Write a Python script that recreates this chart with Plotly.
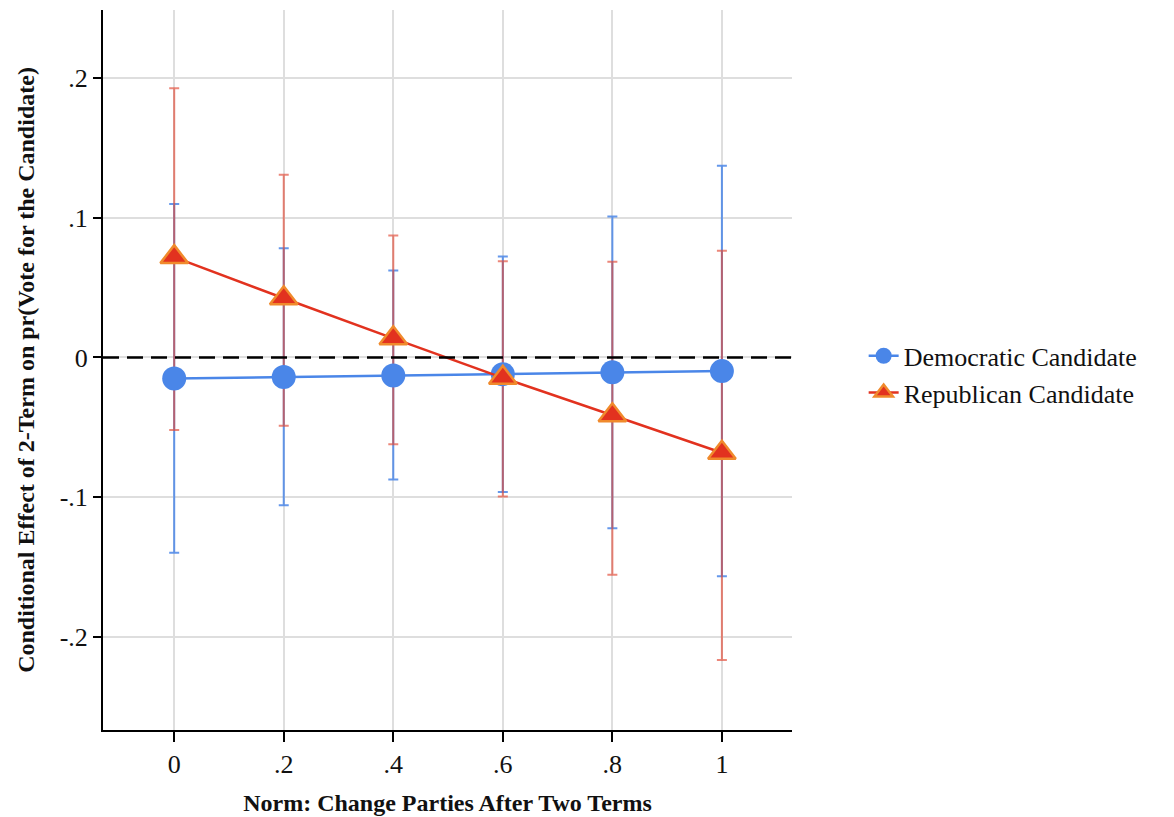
import plotly.graph_objects as go

# Norm values at which the conditional effect is evaluated
norm = [0, 0.2, 0.4, 0.6, 0.8, 1.0]

# Democratic candidate: point estimates and 95% CI bounds
dem_est = [-0.0151, -0.0140, -0.0130, -0.0120, -0.0107, -0.0098]
dem_lo = [-0.140, -0.106, -0.0874, -0.0964, -0.1225, -0.1568]
dem_hi = [0.110, 0.0783, 0.0623, 0.0724, 0.101, 0.1373]

# Republican candidate: point estimates and 95% CI bounds
rep_est = [0.0719, 0.0424, 0.0137, -0.0146, -0.0414, -0.0683]
rep_lo = [-0.052, -0.049, -0.0623, -0.0997, -0.1558, -0.2169]
rep_hi = [0.193, 0.131, 0.0874, 0.069, 0.0685, 0.0765]

x_tickvals = [0, 0.2, 0.4, 0.6, 0.8, 1]
x_ticktext = ["0", ".2", ".4", ".6", ".8", "1"]
y_tickvals = [-0.2, -0.1, 0, 0.1, 0.2]
y_ticktext = ["-.2", "-.1", "0", ".1", ".2"]

BLUE = "#4a86e8"
RED = "#e2321f"
ORANGE = "#f08a2c"
FONT = "Liberation Serif"


def err(est, lo, hi):
    plus = [h - e for e, h in zip(est, hi)]
    minus = [e - l for e, l in zip(est, lo)]
    return plus, minus


fig = go.Figure()

# Confidence intervals first so markers sit on top of them
for est, lo, hi, col in [
    (dem_est, dem_lo, dem_hi, "rgba(74,134,232,0.85)"),
    (rep_est, rep_lo, rep_hi, "rgba(226,70,50,0.65)"),
]:
    plus, minus = err(est, lo, hi)
    fig.add_trace(go.Scatter(
        x=norm, y=est, mode="markers",
        marker=dict(size=1, opacity=0),
        error_y=dict(type="data", symmetric=False, array=plus, arrayminus=minus,
                     color=col, thickness=2, width=5),
        showlegend=False, hoverinfo="skip",
    ))

fig.add_trace(go.Scatter(
    x=norm, y=dem_est, mode="lines+markers", name="Democratic Candidate",
    line=dict(color=BLUE, width=2.5),
    marker=dict(symbol="circle", size=24, color=BLUE, line=dict(color=BLUE, width=0)),
))
fig.add_trace(go.Scatter(
    x=norm, y=rep_est, mode="lines+markers", name="Republican Candidate",
    line=dict(color=RED, width=2.5),
    marker=dict(symbol="triangle-up", size=24, color=RED, line=dict(color=ORANGE, width=2.5)),
))

fig.add_hline(y=0, line=dict(color="black", width=2.5, dash="16px,8px"))

fig.update_layout(
    width=1174, height=817,
    margin=dict(l=103, r=382, t=10, b=87),
    paper_bgcolor="white", plot_bgcolor="white",
    font=dict(family=FONT, color="#111111", size=26),
    legend=dict(x=1.104, y=0.494, xanchor="left", yanchor="middle",
                font=dict(family=FONT, size=26, color="#111111"),
                bgcolor="rgba(0,0,0,0)", tracegroupgap=0),
    xaxis=dict(
        range=[-0.13, 1.128], tickvals=x_tickvals, ticktext=x_ticktext,
        showgrid=True, gridcolor="#dedede", gridwidth=2,
        showline=True, linecolor="black", linewidth=2,
        ticks="outside", ticklen=10, tickwidth=2, tickcolor="black",
        tickfont=dict(size=26), zeroline=False, automargin=False,
        title=dict(text="<b>Norm: Change Parties After Two Terms</b>",
                   font=dict(size=24), standoff=16),
    ),
    yaxis=dict(
        range=[-0.267, 0.249], tickvals=y_tickvals, ticktext=y_ticktext,
        showgrid=True, gridcolor="#dedede", gridwidth=2,
        showline=True, linecolor="black", linewidth=2,
        ticks="outside", ticklen=8, tickwidth=2, tickcolor="black",
        tickfont=dict(size=26), zeroline=False,
        title=dict(text="<b>Conditional Effect of 2-Term on pr(Vote for the Candidate)</b>",
                   font=dict(size=24), standoff=18),
    ),
)

fig.write_html("out.html")
